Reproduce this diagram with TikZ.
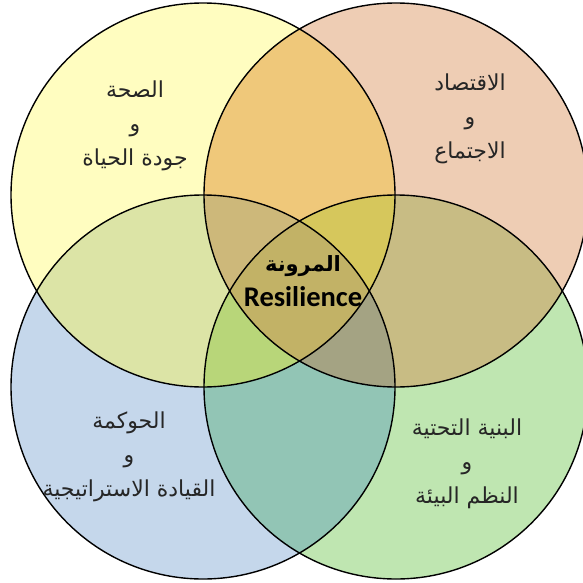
\documentclass[tikz,border=0pt]{standalone}
\usepackage{fontspec}
\TeXXeTstate=1
\newfontfamily\arabicfont[Script=Arabic]{DejaVu Sans}
\newfontfamily\latinfont{Carlito}
\definecolor{Ycol}{HTML}{FFFDC0}
\definecolor{Ocol}{HTML}{EECDB4}
\definecolor{Bcol}{HTML}{C5D7EB}
\definecolor{Gcol}{HTML}{BFE6B1}
\definecolor{YOcol}{HTML}{EFC87A}
\definecolor{YBcol}{HTML}{DCE4A6}
\definecolor{OGcol}{HTML}{C8BC84}
\definecolor{BGcol}{HTML}{92C5B5}
\definecolor{YGcol}{HTML}{C3B264}
\definecolor{OBcol}{HTML}{C3B264}
\definecolor{YOBcol}{HTML}{CDB87A}
\definecolor{YOGcol}{HTML}{D6C75C}
\definecolor{YBGcol}{HTML}{B8D679}
\definecolor{OBGcol}{HTML}{A4A383}
\definecolor{YOBGcol}{HTML}{C2B266}
\def\cY{(203,195) circle[radius=192pt]}
\def\cO{(396,195) circle[radius=192pt]}
\def\cB{(203,387) circle[radius=192pt]}
\def\cG{(396,387) circle[radius=192pt]}
\tikzset{
  outline/.style={draw=black,line width=1.4pt},
  arlabel/.style={font=\arabicfont\fontsize{22}{34}\selectfont,align=center,text=black!85,inner sep=0pt},
  centerlabel/.style={align=center,text=black,inner sep=0pt}
}
\begin{document}
\begin{tikzpicture}[x=1pt,y=-1pt]
\useasboundingbox (0,0) rectangle (583,583);
\clip (0,0) rectangle (583,583);
\fill[white] (0,0) rectangle (583,583);
% single circles
\fill[Ycol] \cY;
\fill[Ocol] \cO;
\fill[Bcol] \cB;
\fill[Gcol] \cG;
% pairs
\begin{scope}\clip \cY; \fill[YOcol] \cO; \end{scope}
\begin{scope}\clip \cY; \fill[YBcol] \cB; \end{scope}
\begin{scope}\clip \cO; \fill[OGcol] \cG; \end{scope}
\begin{scope}\clip \cB; \fill[BGcol] \cG; \end{scope}
\begin{scope}\clip \cY; \fill[YGcol] \cG; \end{scope}
\begin{scope}\clip \cO; \fill[OBcol] \cB; \end{scope}
% triples
\begin{scope}\clip \cY; \clip \cO; \fill[YOBcol] \cB; \end{scope}
\begin{scope}\clip \cY; \clip \cO; \fill[YOGcol] \cG; \end{scope}
\begin{scope}\clip \cY; \clip \cB; \fill[YBGcol] \cG; \end{scope}
\begin{scope}\clip \cO; \clip \cB; \fill[OBGcol] \cG; \end{scope}
% all four
\begin{scope}\clip \cY; \clip \cO; \clip \cB; \fill[YOBGcol] \cG; \end{scope}
% outlines
\draw[outline] \cY;
\draw[outline] \cO;
\draw[outline] \cB;
\draw[outline] \cG;
% labels
\node[arlabel] (health) at (135,126) {\beginR الصحة\endR\\\beginR و\endR\\\beginR جودة الحياة\endR};
\node[arlabel] (economy) at (470,119) {\beginR الاقتصاد\endR\\\beginR و\endR\\\beginR الاجتماع\endR};
\node[arlabel] (governance) at (129,457) {\beginR الحوكمة\endR\\\beginR و\endR\\\beginR القيادة الاستراتيجية\endR};
\node[arlabel] (infra) at (467,464) {\beginR البنية التحتية\endR\\\beginR و\endR\\\beginR النظم البيئة\endR};
\node[centerlabel] (resilience) at (303,281) {{\arabicfont\bfseries\fontsize{21}{24}\selectfont\beginR المرونة\endR}\\[9pt]{\latinfont\bfseries\fontsize{28.5}{30}\selectfont Resilience}};
\end{tikzpicture}
\end{document}
